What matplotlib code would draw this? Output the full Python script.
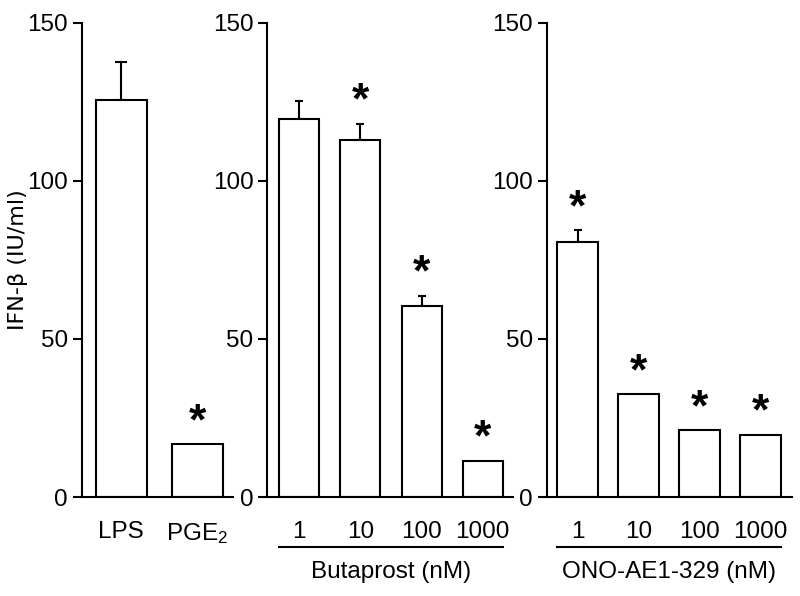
import matplotlib
matplotlib.use("Agg")
import matplotlib.pyplot as plt

# ================================
# DATA
# ================================
ctrl_labels = ["LPS", "PGE$_{2}$"]
ctrl_vals = [125.6, 16.7]
ctrl_err = [12.0, 0.0]
ctrl_star = [False, True]

dose_labels = ["1", "10", "100", "1000"]

buta_vals = [119.6, 112.8, 60.4, 11.5]
buta_err = [5.5, 5.2, 3.2, 0.0]
buta_star = [False, True, True, True]

ono_vals = [80.5, 32.5, 21.1, 19.6]
ono_err = [3.8, 0.0, 0.0, 0.0]
ono_star = [True, True, True, True]

group_names = ["", "Butaprost (nM)", "ONO-AE1-329 (nM)"]
ylabel = "IFN-\u03b2 (IU/ml)"

# ================================
# STYLE
# ================================
plt.rcParams["font.family"] = ["Liberation Sans", "DejaVu Sans"]
plt.rcParams["mathtext.default"] = "regular"
lw = 1.5
fs = 17.5
star_gap = 8.5

fig = plt.figure(figsize=(8, 5.96), dpi=100)

# axes placed in figure fractions (left, bottom, width, height)
ax1 = fig.add_axes([0.1025, 0.1661, 0.1891, 0.7958])
ax2 = fig.add_axes([0.3341, 0.1661, 0.3075, 0.7958])
ax3 = fig.add_axes([0.6834, 0.1661, 0.30625, 0.7958])

panels = [
    (ax1, ctrl_labels, ctrl_vals, ctrl_err, ctrl_star, 0.67, (-0.516, 1.475), 4.3),
    (ax2, dose_labels, buta_vals, buta_err, buta_star, 0.654, (-0.521, 3.498), 3.0),
    (ax3, dose_labels, ono_vals, ono_err, ono_star, 0.664, (-0.505, 3.511), 3.0),
]

for i, (ax, labels, vals, errs, stars, width, xlim, cap) in enumerate(panels):
    x = list(range(len(vals)))
    ax.bar(x, vals, width=width, color="white", edgecolor="black",
           linewidth=lw, zorder=2)

    for xi, v, e, s in zip(x, vals, errs, stars):
        if e > 0:
            ax.errorbar(xi, v, yerr=[[0], [e]], fmt="none", ecolor="black",
                        elinewidth=lw, capsize=cap, capthick=lw, zorder=1)
        if s:
            # star glyph centred a fixed gap above bar / error bar
            ax.annotate("*", xy=(xi, v + e + star_gap), xytext=(0, -12),
                        textcoords="offset points", ha="center", va="baseline",
                        fontsize=32, fontweight="bold")

    ax.set_xlim(*xlim)
    ax.set_ylim(0, 150)
    ax.set_yticks([0, 50, 100, 150])
    ax.set_xticks(x)
    ax.set_xticklabels(labels, fontsize=fs)
    ax.tick_params(axis="x", length=0, pad=17)
    ax.tick_params(axis="y", length=6.5, width=lw, pad=3.5, labelsize=fs)

    for side in ["top", "right"]:
        ax.spines[side].set_visible(False)
    for side in ["left", "bottom"]:
        ax.spines[side].set_linewidth(lw)

    if group_names[i]:
        trans = ax.get_xaxis_transform()
        ax.plot([x[0] - width / 2, x[-1] + width / 2], [-0.1048, -0.1048],
                color="black", lw=lw, transform=trans, clip_on=False)
        ax.text((x[0] + x[-1]) / 2, -0.1708, group_names[i], transform=trans,
                ha="center", va="baseline", fontsize=fs)

ax1.set_ylabel(ylabel, fontsize=16, family=["DejaVu Sans"])
ax1.yaxis.set_label_coords(-0.355, 0.5)

plt.savefig("out.png", dpi=100)
plt.close()
